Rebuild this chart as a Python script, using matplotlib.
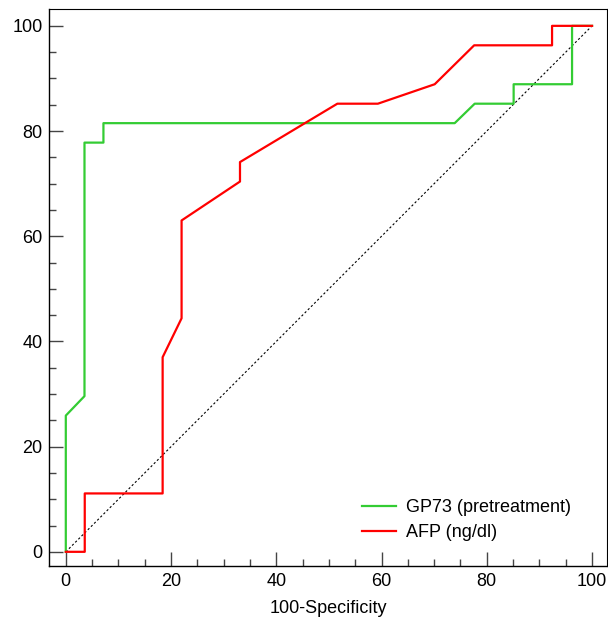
import matplotlib
matplotlib.use("Agg")
import matplotlib.pyplot as plt
from matplotlib.ticker import MultipleLocator

plt.rcParams['font.family'] = ['Liberation Sans', 'DejaVu Sans']

# GP73 (pretreatment) ROC curve
gp73_x = [0, 0, 3.55, 3.55, 7.15, 7.15, 73.9, 77.7, 85.1, 85.1, 96.2, 96.2, 100]
gp73_y = [0, 25.9, 29.6, 77.8, 77.8, 81.5, 81.5, 85.2, 85.2, 88.9, 88.9, 100, 100]

# AFP (ng/dl) ROC curve
afp_x = [0, 3.6, 3.6, 18.4, 18.4, 22.0, 22.0, 33.1, 33.1, 51.6, 59.3, 70.1, 77.6, 92.4, 92.4, 100]
afp_y = [0, 0, 11.1, 11.1, 37.0, 44.4, 63.0, 70.4, 74.1, 85.2, 85.2, 88.9, 96.3, 96.3, 100, 100]

ref_x = [0, 100]
ref_y = [0, 100]

series_names = ["GP73 (pretreatment)", "AFP (ng/dl)"]
x_label = "100-Specificity"

fig = plt.figure(figsize=(6.08, 6.22), dpi=100)
ax = fig.add_axes([0.0814, 0.090, 0.9166, 0.8955])

ax.plot(ref_x, ref_y, color='black', lw=0.8, linestyle=(0, (2, 2)), zorder=1)
ax.plot(gp73_x, gp73_y, color='#33cc33', lw=1.6, label=series_names[0], zorder=2)
ax.plot(afp_x, afp_y, color='#ff0000', lw=1.6, label=series_names[1], zorder=3)

ax.set_xlim(-3.1, 102.8)
ax.set_ylim(-2.7, 103.2)
ax.xaxis.set_major_locator(MultipleLocator(20))
ax.xaxis.set_minor_locator(MultipleLocator(5))
ax.yaxis.set_major_locator(MultipleLocator(20))
ax.yaxis.set_minor_locator(MultipleLocator(5))
ax.tick_params(which='both', direction='in', colors='#444444', labelcolor='black',
               labelsize=13, top=False, right=False)
ax.tick_params(which='major', length=10, width=1.0, pad=5)
ax.tick_params(which='minor', length=5, width=1.0)
for s in ax.spines.values():
    s.set_linewidth(1.0)
    s.set_color('black')
ax.spines['top'].set_linewidth(0.8)
ax.spines['right'].set_linewidth(0.8)

ax.set_xlabel(x_label, fontsize=13, labelpad=7)

leg = ax.legend(loc='lower left', frameon=False, fontsize=13,
                bbox_to_anchor=(0.561, 0.045), borderpad=0, borderaxespad=0,
                handlelength=1.9, handletextpad=0.55, labelspacing=0.42)

fig.savefig("out.png", dpi=100)
